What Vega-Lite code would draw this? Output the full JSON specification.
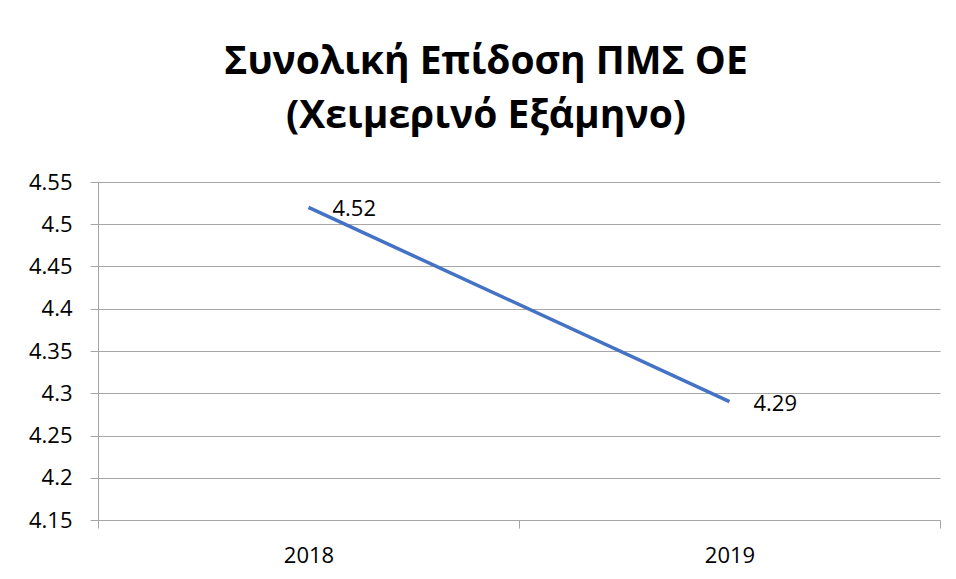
{
  "$schema": "https://vega.github.io/schema/vega-lite/v6.json",
  "width": 842,
  "height": 338,
  "autosize": {"type": "none"},
  "padding": {"left": 98, "top": 182, "right": 16, "bottom": 59},
  "background": "white",
  "config": {"view": {"stroke": null}, "font": "Open Sans"},
  "title": {
    "text": ["Συνολική Επίδοση ΠΜΣ ΟΕ", "(Χειμερινό Εξάμηνο)"],
    "font": "Open Sans",
    "fontSize": 39,
    "fontWeight": "bold",
    "color": "#000000",
    "anchor": "middle",
    "dx": -33,
    "lineHeight": 54,
    "offset": 35
  },
  "data": {
    "values": [
      {"year": "2018", "score": 4.52},
      {"year": "2019", "score": 4.29}
    ]
  },
  "encoding": {
    "x": {
      "field": "year",
      "type": "ordinal",
      "bandPosition": 0.5,
      "scale": {"type": "band", "paddingInner": 0, "paddingOuter": 0},
      "axis": {
        "title": null,
        "labelAngle": 0,
        "labelFont": "Open Sans",
        "labelFontSize": 22,
        "labelColor": "#000000",
        "labelPadding": 17,
        "tickBand": "extent",
        "tickSize": 8,
        "tickColor": "#a6a6a6",
        "domainColor": "#a6a6a6",
        "grid": false
      }
    },
    "y": {
      "field": "score",
      "type": "quantitative",
      "scale": {"domain": [4.15, 4.55], "nice": false, "zero": false},
      "axis": {
        "title": null,
        "values": [4.15, 4.2, 4.25, 4.3, 4.35, 4.4, 4.45, 4.5, 4.55],
        "format": ".2~f",
        "labelFont": "Open Sans",
        "labelFontSize": 22,
        "labelColor": "#000000",
        "labelPadding": 18,
        "tickSize": 8,
        "tickColor": "#a6a6a6",
        "domainColor": "#a6a6a6",
        "grid": true,
        "gridColor": "#a6a6a6"
      }
    }
  },
  "layer": [
    {"mark": {"type": "line", "color": "#4472C4", "strokeWidth": 3.5}},
    {
      "mark": {"type": "text", "align": "left", "baseline": "middle", "dx": 24, "dy": 2, "font": "Open Sans", "fontSize": 22, "color": "#000000"},
      "encoding": {"text": {"field": "score", "type": "quantitative", "format": ".2f"}}
    }
  ]
}
